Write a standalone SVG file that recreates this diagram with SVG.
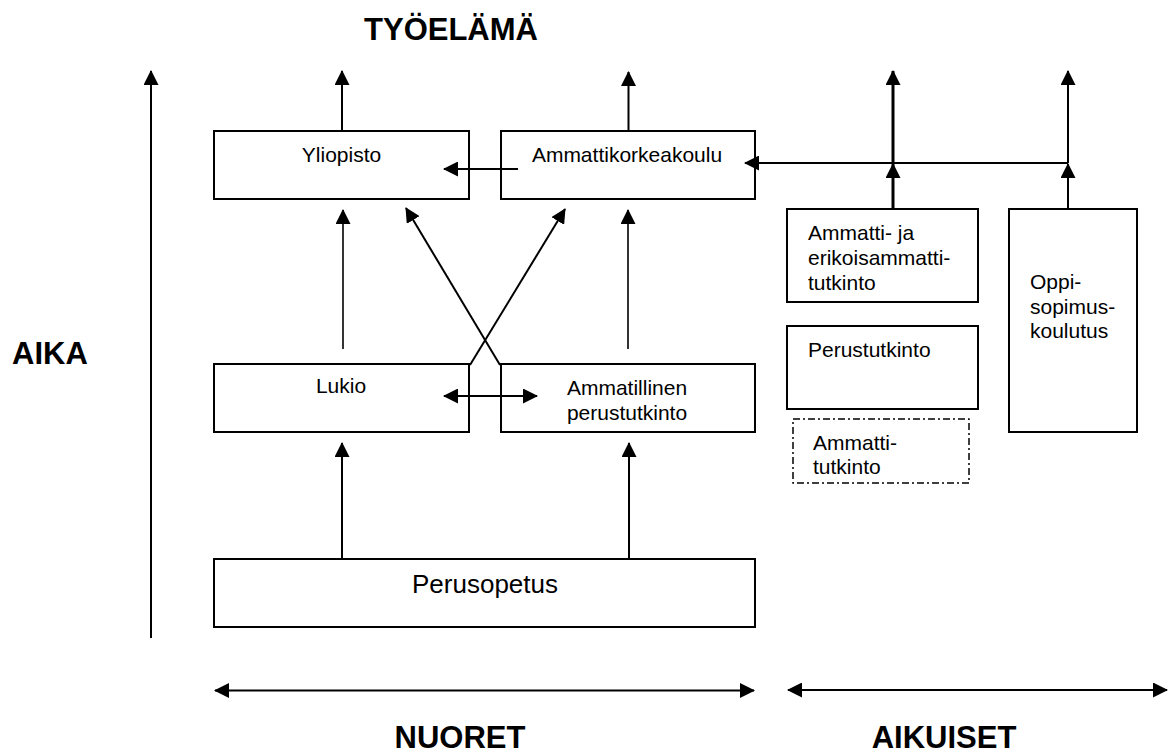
<svg xmlns="http://www.w3.org/2000/svg" width="1176" height="756" viewBox="0 0 1176 756">
<style>
.box{fill:none;stroke:#000;stroke-width:2}
.dd{fill:none;stroke:#000;stroke-width:1.5;stroke-dasharray:7 3 2 3}
.t{font-family:"Liberation Sans",Arial,sans-serif;font-size:21px;fill:#000}
.c{text-anchor:middle}
.h{font-family:"Liberation Sans",Arial,sans-serif;font-size:31px;font-weight:bold;fill:#000}
.ln{stroke:#000;stroke-width:2;fill:none}
.thin{stroke:#000;stroke-width:1.6;fill:none}
.thick{stroke:#000;stroke-width:3;fill:none}
</style>
<defs>
<marker id="ah" markerUnits="userSpaceOnUse" markerWidth="15" markerHeight="15" viewBox="0 0 15 15" refX="14" refY="7.5" orient="auto-start-reverse">
<path d="M0,0 L15,7.5 L0,15 z" fill="#000"/>
</marker>
</defs>
<rect width="1176" height="756" fill="#fff"/>

<g id="labels">
<text class="h c" x="451" y="40">TYÖELÄMÄ</text>
<text class="h" x="12" y="364">AIKA</text>
<text class="h c" x="460" y="748">NUORET</text>
<text class="h c" x="944" y="748">AIKUISET</text>
</g>

<g id="connectors">
<line class="ln" x1="151" y1="638" x2="151" y2="71" marker-end="url(#ah)"/>
<line class="ln" x1="342" y1="131" x2="342" y2="71" marker-end="url(#ah)"/>
<line class="ln" x1="628.5" y1="131" x2="628.5" y2="72" marker-end="url(#ah)"/>
<line class="ln" x1="518" y1="169" x2="444" y2="169" marker-end="url(#ah)"/>
<line class="ln" x1="1068" y1="163" x2="745" y2="163" marker-end="url(#ah)"/>
<line class="thick" x1="893" y1="209" x2="893" y2="164" marker-end="url(#ah)"/>
<line class="thick" x1="893" y1="163" x2="893" y2="71" marker-end="url(#ah)"/>
<line class="ln" x1="1068" y1="209" x2="1068" y2="164" marker-end="url(#ah)"/>
<line class="ln" x1="1068" y1="163" x2="1068" y2="71" marker-end="url(#ah)"/>
<line class="thin" x1="343" y1="349" x2="343" y2="210" marker-end="url(#ah)"/>
<line class="thin" x1="628" y1="349" x2="628" y2="210" marker-end="url(#ah)"/>
<line class="ln" x1="470" y1="365" x2="565" y2="209" marker-end="url(#ah)"/>
<line class="ln" x1="500" y1="365" x2="406" y2="208" marker-end="url(#ah)"/>
<line class="ln" x1="444" y1="396" x2="537" y2="396" marker-start="url(#ah)" marker-end="url(#ah)"/>
<line class="ln" x1="342" y1="559" x2="342" y2="443" marker-end="url(#ah)"/>
<line class="ln" x1="629" y1="559" x2="629" y2="443" marker-end="url(#ah)"/>
<line class="ln" x1="215" y1="690.5" x2="754" y2="690.5" marker-start="url(#ah)" marker-end="url(#ah)"/>
<line class="ln" x1="788" y1="690" x2="1167" y2="690" marker-start="url(#ah)" marker-end="url(#ah)"/>
</g>

<g id="yliopisto">
<rect class="box" x="214" y="131" width="255" height="68"/>
<text class="t c" x="341.5" y="162">Yliopisto</text>
</g>
<g id="amk">
<rect class="box" x="501" y="131" width="254" height="68"/>
<text class="t c" x="627" y="162">Ammattikorkeakoulu</text>
</g>
<g id="lukio">
<rect class="box" x="214" y="364" width="255" height="68"/>
<text class="t c" x="341" y="393">Lukio</text>
</g>
<g id="ammatillinen">
<rect class="box" x="501" y="364" width="254" height="68"/>
<text class="t c" x="627" y="395">Ammatillinen</text>
<text class="t c" x="627" y="420">perustutkinto</text>
</g>
<g id="perusopetus">
<rect class="box" x="214" y="559" width="541" height="68"/>
<text class="t c" x="485" y="593" style="font-size:26px">Perusopetus</text>
</g>
<g id="ammatti-erikois">
<rect class="box" x="787" y="209" width="191" height="93"/>
<text class="t" x="808" y="240">Ammatti- ja</text>
<text class="t" x="808" y="265">erikoisammatti-</text>
<text class="t" x="808" y="289.5">tutkinto</text>
</g>
<g id="perustutkinto">
<rect class="box" x="787" y="326" width="191" height="83"/>
<text class="t" x="808" y="357">Perustutkinto</text>
</g>
<g id="ammattitutkinto">
<rect class="dd" x="793" y="419" width="176" height="64"/>
<text class="t" x="813" y="450">Ammatti-</text>
<text class="t" x="813" y="474">tutkinto</text>
</g>
<g id="oppisopimus">
<rect class="box" x="1009" y="209" width="128" height="223"/>
<text class="t" x="1030" y="289">Oppi-</text>
<text class="t" x="1030" y="313.5">sopimus-</text>
<text class="t" x="1030" y="338">koulutus</text>
</g>
</svg>
